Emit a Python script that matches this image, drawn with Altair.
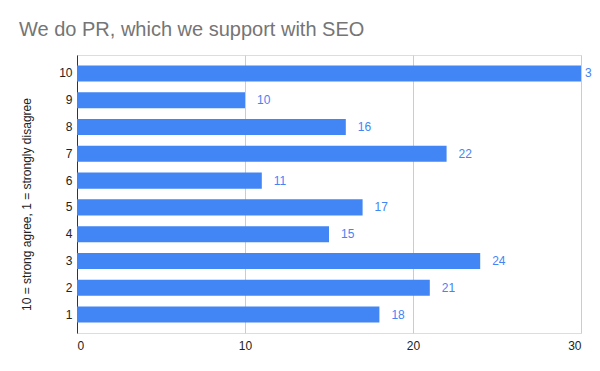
import altair as alt
import pandas as pd

ratings = ["10", "9", "8", "7", "6", "5", "4", "3", "2", "1"]
counts = [30, 10, 16, 22, 11, 17, 15, 24, 21, 18]
x_max = 30

df = pd.DataFrame({"rating": ratings, "count": counts})

FONT = "Arial, Liberation Sans, sans-serif"
BLUE = "#4285F4"

y_enc = alt.Y(
    "rating:N",
    sort=ratings,
    scale=alt.Scale(paddingInner=0.4, paddingOuter=0.39),
    axis=alt.Axis(
        title="10 = strong agree, 1 = strongly disagree",
        titleFont=FONT,
        titleFontSize=12,
        titleFontWeight="normal",
        titleColor="#222222",
        titleBaseline="alphabetic",
        titleX=-47,
        titleY=149,
        titleAngle=-90,
        labelFont=FONT,
        labelFontSize=12,
        labelColor="#222222",
        labelPadding=5,
        ticks=False,
        domain=True,
        domainColor="#333333",
        grid=False,
    ),
)

x_enc = alt.X(
    "count:Q",
    scale=alt.Scale(domain=[0, x_max], nice=False),
    axis=alt.Axis(
        title=None,
        values=[0, 10, 20, 30],
        labelFont=FONT,
        labelFontSize=12,
        labelColor="#222222",
        labelPadding=7,
        ticks=False,
        domain=False,
        grid=True,
        gridColor="#cccccc",
    ),
)

bars = alt.Chart(df).mark_bar(color=BLUE).encode(x=x_enc, y=y_enc)

labels = (
    alt.Chart(df)
    .transform_filter(alt.datum.count < x_max)
    .mark_text(align="left", baseline="middle", dx=12, font=FONT, fontSize=12, color=BLUE)
    .encode(x="count:Q", y=alt.Y("rating:N", sort=ratings), text="count:Q")
)

# label at the right edge, cut off by the chart edge as in the reference
edge_labels = (
    alt.Chart(df)
    .transform_filter(alt.datum.count >= x_max)
    .mark_text(align="left", baseline="middle", dx=4, font=FONT, fontSize=12, color=BLUE)
    .encode(x="count:Q", y=alt.Y("rating:N", sort=ratings), text="count:Q")
)

chart = (
    alt.layer(bars, labels, edge_labels)
    .properties(
        width=504,
        height=278,
        autosize=alt.AutoSizeParams(type="none"),
        padding={"left": 69, "top": 47, "right": 11, "bottom": 30},
        title=alt.TitleParams(
            "We do PR, which we support with SEO",
            anchor="start",
            frame="group",
            font=FONT,
            fontSize=20,
            fontWeight="normal",
            color="#757575",
            baseline="alphabetic",
            offset=17,
            dx=-58,
            dy=18,
        ),
    )
    .configure_view(stroke=None)
    .configure(background="white")
)

chart.save("out.html", embed_options={"renderer": "svg", "actions": False})
